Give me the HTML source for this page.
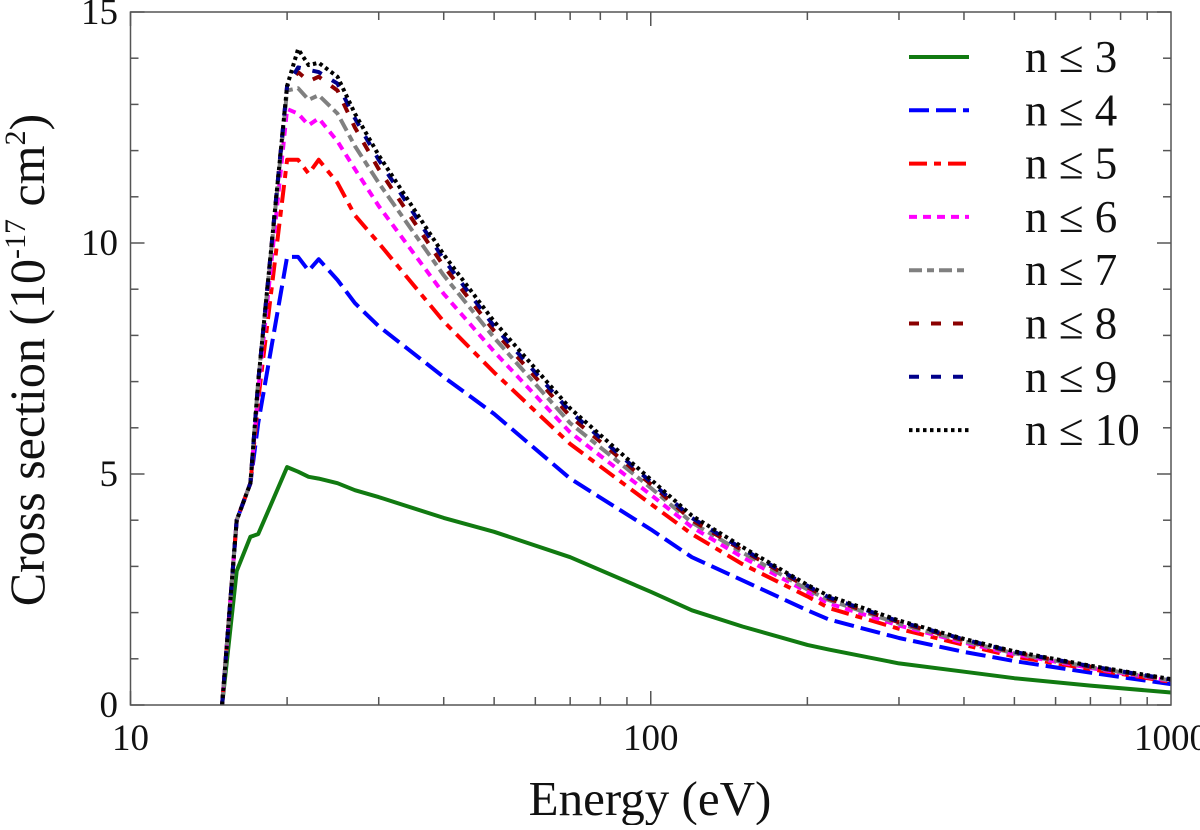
<!DOCTYPE html>
<html><head><meta charset="utf-8"><style>
body{margin:0;background:#fff;}
svg text{font-family:"Liberation Serif",serif;fill:#111;}
</style></head><body>
<svg id="chart" width="1200" height="825" viewBox="0 0 1200 825" xmlns="http://www.w3.org/2000/svg">
<g id="plot"></g>
</svg>
<script>
const energies = [15,16,17,17.6,20,21,22,23,25,27,30,40,50,70,100,120,150,200,220,300,400,500,700,1000];
const n3  = [0,2.9,3.64,3.7,5.15,5.05,4.94,4.9,4.8,4.65,4.5,4.05,3.75,3.2,2.45,2.05,1.7,1.3,1.2,0.9,0.72,0.58,0.42,0.27];
const n4  = [0,4.0,4.8,6.1,9.7,9.7,9.4,9.65,9.2,8.7,8.2,7.1,6.3,4.9,3.8,3.2,2.7,2.05,1.85,1.45,1.15,0.95,0.7,0.45];
const n5  = [0,4.0,4.8,6.6,11.8,11.8,11.5,11.8,11.3,10.6,10.0,8.3,7.2,5.65,4.35,3.7,3.05,2.35,2.1,1.65,1.3,1.05,0.78,0.5];
const n6  = [0,4.0,4.8,6.8,12.9,12.8,12.55,12.7,12.2,11.6,10.8,8.9,7.65,5.9,4.55,3.85,3.2,2.45,2.2,1.72,1.35,1.1,0.8,0.52];
const n7  = [0,4.0,4.8,7.0,13.3,13.35,13.1,13.2,12.8,12.1,11.3,9.3,7.95,6.1,4.7,3.95,3.3,2.5,2.27,1.76,1.38,1.12,0.82,0.53];
const n8  = [0,4.0,4.8,7.0,13.4,13.7,13.5,13.6,13.3,12.5,11.6,9.5,8.1,6.25,4.78,4.0,3.35,2.55,2.3,1.79,1.4,1.14,0.83,0.54];
const n9  = [0,4.0,4.8,7.0,13.4,13.8,13.75,13.7,13.45,12.7,11.8,9.65,8.2,6.35,4.83,4.05,3.38,2.58,2.33,1.81,1.42,1.15,0.84,0.55];
const n10 = [0,4.0,4.8,7.0,13.4,14.2,13.85,13.9,13.6,12.8,11.9,9.75,8.3,6.42,4.88,4.1,3.42,2.6,2.36,1.83,1.43,1.16,0.85,0.56];
const seriesNames = ["n ≤ 3","n ≤ 4","n ≤ 5","n ≤ 6","n ≤ 7","n ≤ 8","n ≤ 9","n ≤ 10"];
const xTicks = [10,100,1000];
const yTicks = [0,5,10,15];

const X0=130.5, X1=1171, Y0=705, Y1=12;
const xs = e => X0 + (Math.log10(e)-1)/2*(X1-X0);
const ys = v => Y0 - v/15*(Y0-Y1);
const NS="http://www.w3.org/2000/svg";
const g=document.getElementById('plot');
function mk(t,a,p){const e=document.createElementNS(NS,t);for(const k in a)e.setAttribute(k,a[k]);(p||g).appendChild(e);return e;}

const series=[n3,n4,n5,n6,n7,n8,n9,n10];
const colors=["#117a11","#0000ff","#ff0000","#ff00ff","#808080","#8b0000","#00008b","#000000"];
const dashes=["","20,7","18,7,7,7","8,6","13,5,7,5","10,12","10,12","3.5,3.5"];
series.forEach((s,i)=>{
  const d=energies.map((e,j)=>(j?'L':'M')+xs(e).toFixed(1)+','+ys(s[j]).toFixed(1)).join(' ');
  const p=mk('path',{d:d,fill:'none',stroke:colors[i],'stroke-width':4,'stroke-dasharray':dashes[i],'stroke-linejoin':'round'});
  
  
});

const fr=mk('rect',{x:X0,y:Y1,width:X1-X0,height:Y0-Y1,fill:'none',stroke:'#555','stroke-width':1.5});



for(let dec=10;dec<1000;dec*=10){for(let m=1;m<10;m++){const e=dec*m;const x=xs(e);const L=m===1?14:8;
 mk('line',{x1:x,y1:Y0,x2:x,y2:Y0-L,stroke:'#555','stroke-width':1.5});
 mk('line',{x1:x,y1:Y1,x2:x,y2:Y1+L,stroke:'#555','stroke-width':1.5});}}
xTicks.forEach(t=>{const tx=mk('text',{x:xs(t),y:750,'font-size':37,'text-anchor':'middle'});tx.textContent=t;
 
 });
for(let v=0;v<=15;v++){const y=ys(v);const L=v%5===0?14:8;
 mk('line',{x1:X0,y1:y,x2:X0+L,y2:y,stroke:'#555','stroke-width':1.5});
 mk('line',{x1:X1,y1:y,x2:X1-L,y2:y,stroke:'#555','stroke-width':1.5});}
yTicks.forEach(t=>{const tx=mk('text',{x:118,y:ys(t)+12,'font-size':37,'text-anchor':'end'});tx.textContent=t;
 
 });

const xt=mk('text',{x:650,y:815,'font-size':49,'text-anchor':'middle'});xt.textContent='Energy (eV)';


const yt=mk('text',{transform:'translate(44,360) rotate(-90)','font-size':50,'text-anchor':'middle'});
yt.innerHTML='Cross section (10<tspan font-size="30" dy="-19">-17</tspan><tspan dy="19"> cm</tspan><tspan font-size="30" dy="-19">2</tspan><tspan dy="19">)</tspan>';



seriesNames.forEach((n,i)=>{const y=57+i*53.3;
 const ln=mk('line',{x1:909,y1:y,x2:969,y2:y,stroke:colors[i],'stroke-width':4,'stroke-dasharray':dashes[i]});
 
 
 const tx=mk('text',{x:1025,y:y+15,'font-size':45});tx.textContent=n;
 
 });
</script>
</body></html>
